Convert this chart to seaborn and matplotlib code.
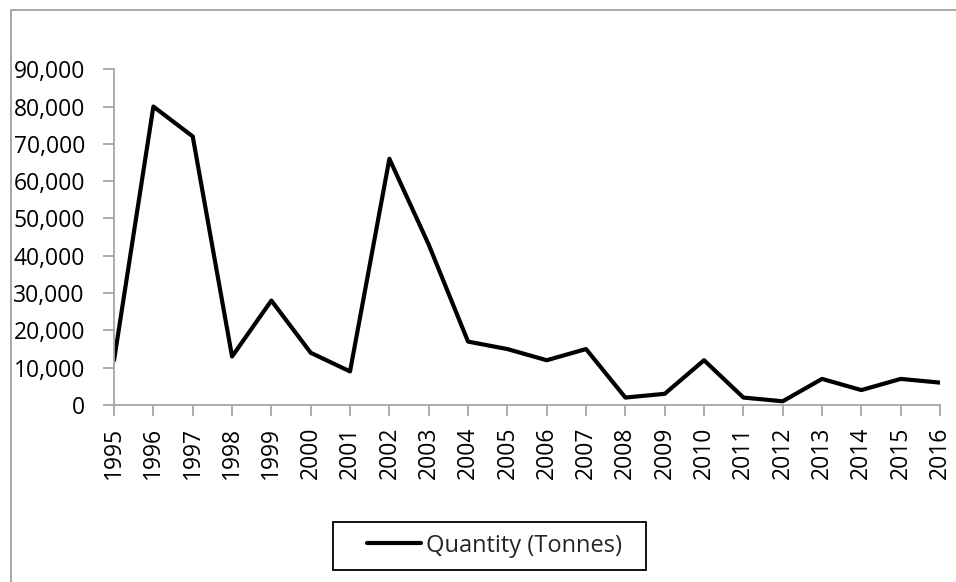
import pandas as pd
import matplotlib.pyplot as plt
import seaborn as sns
from matplotlib.patches import Rectangle
from matplotlib.ticker import FuncFormatter

# Data
years = list(range(1995, 2017))
quantity = [12000, 80000, 72000, 13000, 28000, 14000, 9000, 66000, 43000, 17000,
            15000, 12000, 15000, 2000, 3000, 12000, 2000, 1000, 7000, 4000, 7000, 6000]
y_ticks = list(range(0, 90001, 10000))
series_name = 'Quantity (Tonnes)'

df = pd.DataFrame({'Year': years, 'Quantity': quantity})

sns.set_style('white')
plt.rcParams['font.family'] = ['Open Sans', 'DejaVu Sans']

axis_grey = '#a6a6a6'

fig = plt.figure(figsize=(9.56, 5.82), dpi=100)
ax = fig.add_axes([0.1193, 0.3041, 0.864, 0.5769])

sns.lineplot(data=df, x='Year', y='Quantity', ax=ax, color='black',
             linewidth=3, label=series_name, legend=False)

ax.set_xlim(1995, 2016)
ax.set_ylim(0, 90000)
ax.set_xticks(years)
ax.set_xticklabels([str(y) for y in years], rotation=90)
ax.set_yticks(y_ticks)
ax.yaxis.set_major_formatter(FuncFormatter(lambda v, p: f'{int(v):,}'))
ax.set_xlabel('')
ax.set_ylabel('')

for side in ['top', 'right']:
    ax.spines[side].set_visible(False)
for side in ['left', 'bottom']:
    ax.spines[side].set_color(axis_grey)
    ax.spines[side].set_linewidth(1.3)

ax.tick_params(axis='both', which='major', direction='out', length=8, width=1.3,
               color=axis_grey, labelcolor='black')
ax.tick_params(axis='y', left=True, labelsize=16.5, pad=13)
ax.tick_params(axis='x', bottom=True, labelsize=16.5, pad=7.5)

# Legend below the plot; box drawn around it afterwards (Excel-style padding)
leg = fig.legend(loc='center', bbox_to_anchor=(0.5173, 0.0627), fontsize=17,
                 frameon=False, handlelength=2.29, handletextpad=0.21,
                 borderpad=0, borderaxespad=0)

fig.canvas.draw()
bb = leg.get_window_extent()
fig.patches.append(Rectangle((bb.x0 - 34, bb.y0 - 12), bb.width + 58, bb.height + 24,
                             transform=None, fill=False, edgecolor='black',
                             linewidth=1.3))

# Outer chart-area border (only top and left visible in the reference)
fig.patches.append(Rectangle((11 / 956, -0.1), 1.2, 1 - 9.5 / 582 + 0.1,
                             transform=fig.transFigure, fill=False,
                             edgecolor='#a0a0a0', linewidth=1.3))

fig.savefig('out.png', dpi=100)
